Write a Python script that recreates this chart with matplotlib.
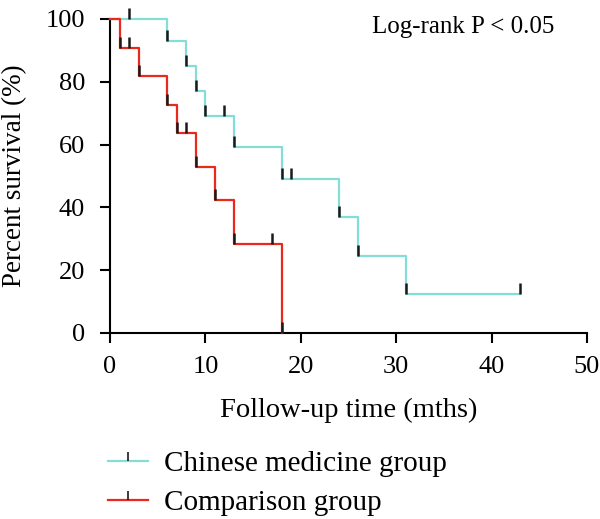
import matplotlib
matplotlib.use("Agg")
import matplotlib.pyplot as plt
from matplotlib.path import Path
from matplotlib.lines import Line2D

plt.rcParams['font.family'] = ['Liberation Serif', 'DejaVu Serif']

# Data
cm_times = [0, 6, 8, 9, 10, 13, 18, 24, 26, 31]
cm_surv = [100, 92.9, 85.0, 77.2, 69.1, 59.3, 49.0, 36.8, 24.6, 12.3]
cm_end = 43
cm_censor_t = [2, 12, 19, 43]
cm_censor_s = [100, 69.1, 49.0, 12.3]

cp_times = [0, 1, 3, 6, 7, 9, 11, 13, 18]
cp_surv = [100, 90.9, 81.8, 72.7, 63.6, 53.0, 42.4, 28.3, 0]
cp_censor_t = [2, 8, 17]
cp_censor_s = [90.9, 63.6, 28.3]

labels = ["Chinese medicine group", "Comparison group"]
cyan = "#84ddd6"
red = "#e8291c"

tick_marker = Path([(0, 0), (0, 1)], [Path.MOVETO, Path.LINETO])

fig = plt.figure(figsize=(6.0, 5.19), dpi=100)
ax = fig.add_axes([0.1833, 0.3584, 0.795, 0.605])

def draw(times, surv, end, ct, cs, color):
    xs = list(times) + ([end] if end is not None else [])
    ys = list(surv) + ([surv[-1]] if end is not None else [])
    ax.step(xs, ys, where='post', color=color, lw=1.6, clip_on=False, zorder=3)
    ax.plot(times[1:], surv[1:], ls='none', marker=tick_marker, ms=16,
            mec='#1a1a1a', mew=1.8, clip_on=False, zorder=4)
    ax.plot(ct, cs, ls='none', marker=tick_marker, ms=16,
            mec='#1a1a1a', mew=1.8, clip_on=False, zorder=4)

draw(cm_times, cm_surv, cm_end, cm_censor_t, cm_censor_s, cyan)
draw(cp_times, cp_surv, None, cp_censor_t, cp_censor_s, red)

ax.set_xlim(0, 50)
ax.set_ylim(0, 100)
ax.set_xticks([0, 10, 20, 30, 40, 50])
ax.set_yticks([0, 20, 40, 60, 80, 100])
for s in ['top', 'right']:
    ax.spines[s].set_visible(False)
for s in ['left', 'bottom']:
    ax.spines[s].set_linewidth(1.5)
ax.tick_params(direction='out', length=7.5, width=1.5, labelsize=19)
ax.tick_params(axis='x', pad=9)
ax.tick_params(axis='y', pad=10.5)
ax.set_xlabel("Follow-up time (mths)", fontsize=20.5, labelpad=14.5)
ax.set_ylabel("Percent survival (%)", fontsize=19.5, labelpad=13)
ax.text(0.931, 0.955, "Log-rank P < 0.05", transform=ax.transAxes,
        ha='right', va='baseline', fontsize=18)

handles = [
    Line2D([], [], color=cyan, lw=1.6, marker=tick_marker, ms=13, mec='#1a1a1a', mew=1.2),
    Line2D([], [], color=red, lw=1.6, marker=tick_marker, ms=13, mec='#1a1a1a', mew=1.2),
]
fig.legend(handles, labels, loc='upper left', bbox_to_anchor=(0.1805, 0.131),
           frameon=False, fontsize=21, handlelength=1.35, handletextpad=0.55,
           labelspacing=0.41, borderaxespad=0, borderpad=0)

fig.savefig("out.png", dpi=100)
